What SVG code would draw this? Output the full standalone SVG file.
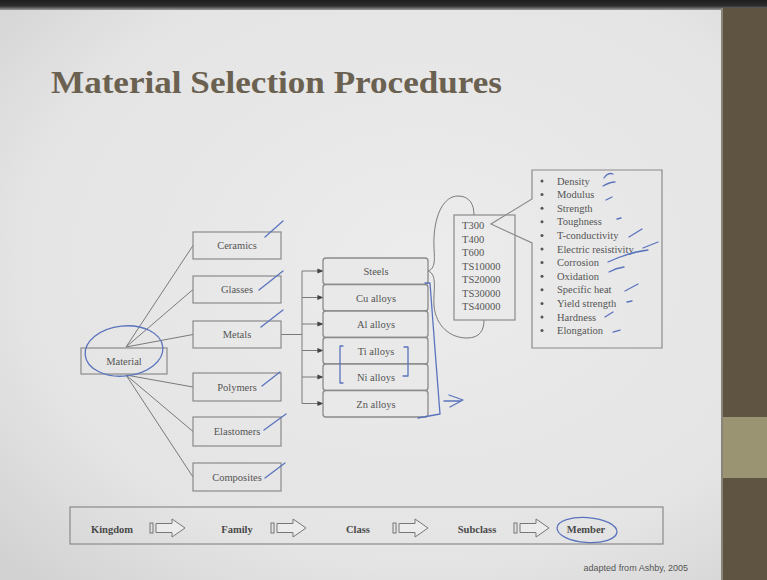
<svg xmlns="http://www.w3.org/2000/svg" width="767" height="580" viewBox="0 0 767 580">
  <defs>
    <radialGradient id="slideBg" cx="0.55" cy="0.45" r="0.75">
      <stop offset="0" stop-color="#ececec"/>
      <stop offset="0.7" stop-color="#e4e4e4"/>
      <stop offset="1" stop-color="#d2d2d2"/>
    </radialGradient>
    <linearGradient id="topBar" x1="0" y1="0" x2="0" y2="1">
      <stop offset="0" stop-color="#1e1e1e"/>
      <stop offset="0.6" stop-color="#2e2e2e"/>
      <stop offset="1" stop-color="#9a9a9a"/>
    </linearGradient>
    <marker id="tip" viewBox="0 0 8 8" refX="7.5" refY="4" markerWidth="6" markerHeight="6" orient="auto" markerUnits="userSpaceOnUse">
      <path d="M0 0.8 L8 4 L0 7.2 Z" fill="#444"/>
    </marker>
    <g id="blockArrow">
      <rect x="0" y="-5" width="3" height="10" fill="none" stroke="#777" stroke-width="1"/>
      <path d="M6 -4.5 H22 V-9 L35 0 L22 9 V4.5 H6 Z" fill="#ececec" stroke="#777" stroke-width="1"/>
    </g>
  </defs>
  <style>
    .box { fill: none; stroke: #8a8a8a; stroke-width: 1.2; }
    .cls { fill: #e9e9e9; stroke: #8a8a8a; stroke-width: 1.3; }
    .edge { fill: none; stroke: #7a7a7a; stroke-width: 1; }
    .lbl { font-family: "Liberation Serif", "Times New Roman", serif; font-size: 10.5px; fill: #555; text-anchor: middle; }
    .lst { font-family: "Liberation Serif", "Times New Roman", serif; font-size: 10.5px; fill: #555; }
    .lvl { font-family: "Liberation Serif", "Times New Roman", serif; font-size: 10.5px; font-weight: bold; fill: #4a4a4a; text-anchor: middle; }
    .ink { fill: none; stroke: #5a73bd; stroke-width: 1.3; stroke-linecap: round; stroke-linejoin: round; }
  </style>

  <!-- slide background, top strip and side panel -->
  <rect x="0" y="0" width="767" height="580" fill="url(#slideBg)"/>
  <rect x="0" y="0" width="767" height="10" fill="url(#topBar)"/>
  <rect x="722" y="8" width="45" height="572" fill="#5e5441"/>
  <rect x="722" y="417" width="45" height="61" fill="#9b9473"/>
  <rect x="721" y="8" width="2" height="572" fill="#8a8478"/>

  <!-- title -->
  <text x="51" y="93" font-family="Liberation Serif, Times New Roman, serif" font-size="32" font-weight="bold" fill="#6b6150" textLength="451" lengthAdjust="spacingAndGlyphs">Material  Selection Procedures</text>

  <!-- connectors -->
  <g id="connectors">
    <path class="edge" d="M126 347 L193 245.5 M126 347 L193 289.5 M126 347 L193 334.5"/>
    <path class="edge" d="M126 375 L193 387 M126 375 L193 431.5 M126 375 L193 477"/>
    <path class="edge" d="M281 334.5 H302 M302 271 V403.5"/>
    <path class="edge" marker-end="url(#tip)" d="M302 271 H323"/>
    <path class="edge" marker-end="url(#tip)" d="M302 297.5 H323"/>
    <path class="edge" marker-end="url(#tip)" d="M302 324 H323"/>
    <path class="edge" marker-end="url(#tip)" d="M302 350.5 H323"/>
    <path class="edge" marker-end="url(#tip)" d="M302 377 H323"/>
    <path class="edge" marker-end="url(#tip)" d="M302 403.5 H323"/>
    <!-- brace from Steels around the grade list -->
    <path class="edge" d="M428 271 C438 268 433 252 434 238 C435 214 444 196 458 196 C470 196 474 205 474 215"/>
    <path class="edge" d="M428 271 C438 274 433 292 434 306 C436 326 450 338 467 338 C480 338 484 330 484 320"/>
  </g>

  <!-- kingdom -->
  <g id="material">
    <rect class="box" x="81" y="348" width="86" height="26"/>
    <text class="lbl" x="124" y="365" font-size="11">Material</text>
  </g>

  <!-- families -->
  <g id="ceramics"><rect class="box" x="193" y="232" width="88" height="27"/><text class="lbl" x="237" y="249">Ceramics</text></g>
  <g id="glasses"><rect class="box" x="193" y="276" width="88" height="27"/><text class="lbl" x="237" y="293">Glasses</text></g>
  <g id="metals"><rect class="box" x="193" y="321" width="88" height="27"/><text class="lbl" x="237" y="338">Metals</text></g>
  <g id="polymers"><rect class="box" x="193" y="373" width="88" height="28"/><text class="lbl" x="237" y="391">Polymers</text></g>
  <g id="elastomers"><rect class="box" x="193" y="417" width="88" height="29"/><text class="lbl" x="237" y="435">Elastomers</text></g>
  <g id="composites"><rect class="box" x="193" y="463" width="88" height="28"/><text class="lbl" x="237" y="481">Composites</text></g>

  <!-- classes -->
  <g id="steels"><rect class="cls" x="323" y="258" width="105" height="26.5" rx="3"/><text class="lbl" x="376" y="275">Steels</text></g>
  <g id="cu-alloys"><rect class="cls" x="323" y="284.5" width="105" height="26.5" rx="3"/><text class="lbl" x="376" y="301.5">Cu alloys</text></g>
  <g id="al-alloys"><rect class="cls" x="323" y="311" width="105" height="26.5" rx="3"/><text class="lbl" x="376" y="328">Al alloys</text></g>
  <g id="ti-alloys"><rect class="cls" x="323" y="337.5" width="105" height="26.5" rx="3"/><text class="lbl" x="376" y="354.5">Ti alloys</text></g>
  <g id="ni-alloys"><rect class="cls" x="323" y="364" width="105" height="26.5" rx="3"/><text class="lbl" x="376" y="381">Ni alloys</text></g>
  <g id="zn-alloys"><rect class="cls" x="323" y="390.5" width="105" height="26.5" rx="3"/><text class="lbl" x="376" y="407.5">Zn alloys</text></g>

  <!-- subclasses -->
  <g id="grades">
    <rect class="box" x="454" y="215" width="61" height="105"/>
    <text class="lst" x="462" font-size="11">
      <tspan x="462" y="229">T300</tspan>
      <tspan x="462" y="242.5">T400</tspan>
      <tspan x="462" y="256">T600</tspan>
      <tspan x="462" y="269.5">TS10000</tspan>
      <tspan x="462" y="283">TS20000</tspan>
      <tspan x="462" y="296.5">TS30000</tspan>
      <tspan x="462" y="310">TS40000</tspan>
    </text>
  </g>

  <!-- member attributes (callout from T300) -->
  <g id="attributes">
    <path class="box" d="M532 170 H662 V348 H532 V243 L491 224 L532 199 Z" stroke-width="1.4"/>
    <g fill="#555">
      <circle cx="542" cy="181" r="1.5"/><circle cx="542" cy="194.6" r="1.5"/><circle cx="542" cy="208.2" r="1.5"/>
      <circle cx="542" cy="221.8" r="1.5"/><circle cx="542" cy="235.4" r="1.5"/><circle cx="542" cy="249" r="1.5"/>
      <circle cx="542" cy="262.6" r="1.5"/><circle cx="542" cy="276.2" r="1.5"/><circle cx="542" cy="289.8" r="1.5"/>
      <circle cx="542" cy="303.4" r="1.5"/><circle cx="542" cy="317" r="1.5"/><circle cx="542" cy="330.6" r="1.5"/>
    </g>
    <text class="lst">
      <tspan x="557" y="184.5">Density</tspan>
      <tspan x="557" y="198.1">Modulus</tspan>
      <tspan x="557" y="211.7">Strength</tspan>
      <tspan x="557" y="225.3">Toughness</tspan>
      <tspan x="557" y="238.9">T-conductivity</tspan>
      <tspan x="557" y="252.5">Electric resistivity</tspan>
      <tspan x="557" y="266.1">Corrosion</tspan>
      <tspan x="557" y="279.7">Oxidation</tspan>
      <tspan x="557" y="293.3">Specific heat</tspan>
      <tspan x="557" y="306.9">Yield strength</tspan>
      <tspan x="557" y="320.5">Hardness</tspan>
      <tspan x="557" y="334.1">Elongation</tspan>
    </text>
  </g>

  <!-- hierarchy legend -->
  <g id="legend">
    <rect class="box" x="70" y="507" width="593" height="37" stroke-width="1.3"/>
    <text class="lvl" x="112" y="533">Kingdom</text>
    <use href="#blockArrow" x="150" y="528"/>
    <text class="lvl" x="237" y="533">Family</text>
    <use href="#blockArrow" x="271" y="528"/>
    <text class="lvl" x="358" y="533">Class</text>
    <use href="#blockArrow" x="393" y="528"/>
    <text class="lvl" x="477" y="533">Subclass</text>
    <use href="#blockArrow" x="514" y="528"/>
    <text class="lvl" x="586" y="533">Member</text>
  </g>

  <text x="688" y="571" font-family="Liberation Sans, Arial, sans-serif" font-size="9" fill="#555" text-anchor="end">adapted from Ashby, 2005</text>

  <!-- hand-drawn pen marks -->
  <g id="pen-marks" class="ink">
    <ellipse cx="124" cy="351" rx="39" ry="25" transform="rotate(-6 124 351)"/>
    <path d="M265 237 L283 221"/>
    <path d="M259 290 L283 271"/>
    <path d="M261 327 L283 310"/>
    <path d="M262 386 L280 372"/>
    <path d="M264 430 L286 414"/>
    <path d="M265 478 L285 463"/>
    <path d="M343 346 H340 V383 H343"/>
    <path d="M404 347 H408 V376 H403"/>
    <path d="M425 283 H430 C433 320 437 380 440 414 L418 418"/>
    <path d="M449 395 L463 400 L450 407 M444 401 H461"/>
    <path d="M604 178 Q608 172 613 174 M603 186 Q610 182 615 182"/>
    <path d="M606 200 L612 197"/>
    <path d="M617 219 L621 218"/>
    <path d="M629 237 L642 229"/>
    <path d="M608 262 Q630 252 648 250 M643 248 L658 242"/>
    <path d="M609 272 Q616 268 624 267"/>
    <path d="M625 291 L638 284"/>
    <path d="M627 302 L632 301"/>
    <path d="M605 317 L613 312"/>
    <path d="M613 332 L620 330"/>
    <ellipse cx="587" cy="530" rx="30" ry="12.5" transform="rotate(4 587 530)"/>
  </g>
</svg>
